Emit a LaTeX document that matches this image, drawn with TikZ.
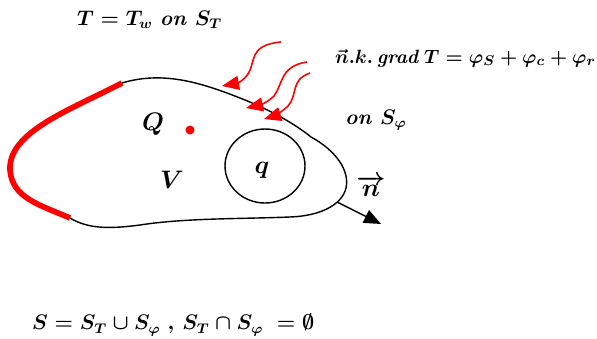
\documentclass[tikz,border=0pt]{standalone}
\usepackage{amsmath,amssymb}
\usetikzlibrary{arrows.meta,positioning}
\definecolor{bcRed}{HTML}{ff0000}
\definecolor{bcInk}{HTML}{000000}
\tikzset{
  >={Triangle[length=3.4mm,width=2.8mm]},
  wall/.style={draw=bcInk, line width=0.8pt},
  fixedT/.style={draw=bcRed, line width=3.2pt},
  flux/.style={->, draw=bcRed, line width=0.9pt},
  normal/.style={->, draw=bcInk, line width=0.8pt},
  eqn/.style={font=\large\boldmath, inner sep=1pt, anchor=west},
  sym/.style={font=\Large\boldmath, inner sep=1pt},
}
\begin{document}
\begin{tikzpicture}[x=0.02cm,y=-0.02cm]
    \useasboundingbox (0,0) rectangle (597,338);
    % boundary of the domain
    \coordinate (a) at (122,83);
    \coordinate (l) at (10,170);
    \coordinate (b) at (70,218);
    \draw[wall] (a) .. controls (165,70) and (205,84) .. (245,100)
                    .. controls (272,111) and (295,124) .. (311,137)
                    .. controls (335,150) and (350,170) .. (346,188)
                    .. controls (342,205) and (320,216) .. (290,217)
                    .. controls (240,219) and (185,218) .. (140,225)
                    .. controls (110,229) and (88,229) .. (b);
    \draw[fixedT] (a) .. controls (70,110) and (8,132) .. (l)
                      .. controls (12,198) and (40,205) .. (b);
    % heat source and inner body
    \fill[bcRed] (190,130) circle (4.5);
    \node[sym] (srcQ) at (153,124) {$Q$};
    \node[sym] (vol) at (172,180) {$V$};
    \draw[wall] (265,166) ellipse [x radius=40, y radius=37];
    \node[sym] (inq) at (262,170) {$q$};
    % outward normal
    \coordinate (n0) at (337,202);
    \coordinate (n1) at (381,224);
    \draw[normal] (n0) -- (n1);
    \node[sym] (nvec) at (371,186) {$\overrightarrow{n}$};
    % incoming fluxes
    \coordinate (f1) at (281,42);  \coordinate (t1) at (222,86);
    \coordinate (f2) at (307,62);  \coordinate (t2) at (246,108);
    \coordinate (f3) at (310,73);  \coordinate (t3) at (264,119);
    \draw[flux] (f1) .. controls (248,45) and (256,62) .. (248,74) .. controls (244,80) and (238,83) .. (t1);
    \draw[flux] (f2) .. controls (280,66) and (283,84) .. (274,96) .. controls (268,102) and (260,105) .. (t2);
    \draw[flux] (f3) .. controls (290,80) and (298,95) .. (288,106) .. controls (282,112) and (274,116) .. (t3);
    % boundary conditions
    \node[eqn] (bcT) at (75,20) {$T = T_{w}\ \mathit{on}\ S_{T}$};
    \node[eqn,font=\fontsize{11}{13}\selectfont\boldmath] (bcF) at (333,58) {$\vec{n}.k.\,\mathit{grad}\,T = \varphi_{S} + \varphi_{c} + \varphi_{r}$};
    \node[eqn] (bcOn) at (343,120) {$\mathit{on}\ S_{\varphi}$};
    \node[eqn] (union) at (30,325) {$S = S_{T} \cup S_{\varphi}\ ,\, S_{T} \cap S_{\varphi}\ = \emptyset$};
\end{tikzpicture}
\end{document}
